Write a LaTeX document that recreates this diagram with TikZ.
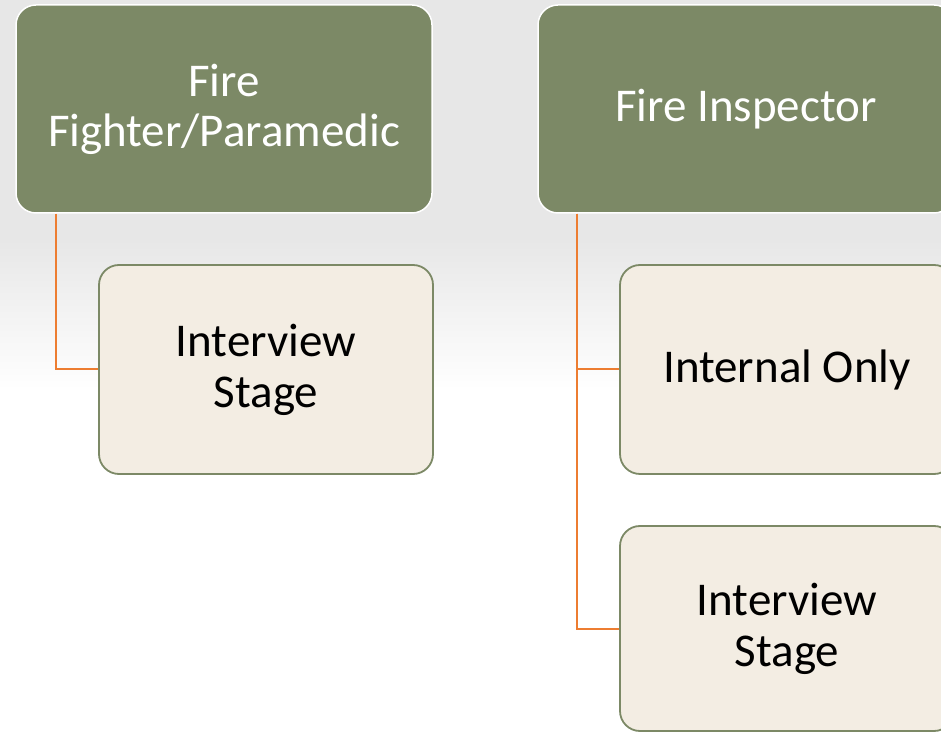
\documentclass[tikz,border=0pt]{standalone}
\usepackage{fontspec}
\setmainfont{Carlito}
\definecolor{olive}{HTML}{7C8966}
\definecolor{cream}{HTML}{F3EDE3}
\definecolor{connorange}{HTML}{ED7D31}
\definecolor{bggray}{HTML}{E7E7E7}
\begin{document}
\begin{tikzpicture}[x=1pt,y=1pt,
  topbox/.style={draw=white, line width=1.5pt, fill=olive, rounded corners=20pt,
    minimum width=416pt, minimum height=208pt, text=white, align=center,
    font=\fontsize{47}{50}\selectfont, inner sep=0pt},
  childbox/.style={draw=olive, line width=1.8pt, fill=cream, rounded corners=20pt,
    minimum width=334pt, text=black, align=center,
    font=\fontsize{47}{51}\selectfont, inner sep=0pt},
  conn/.style={draw=connorange, line width=2pt}]
\useasboundingbox (0,0) rectangle (941,733);
\clip (0,0) rectangle (941,733);
% background
\fill[white] (0,0) rectangle (941,733);
\fill[bggray] (0,493) rectangle (941,733);
\shade[top color=bggray, bottom color=white] (0,343) rectangle (941,493.5);
% top boxes
\node[topbox] (box1) at (224,624) {Fire\\Fighter/Paramedic};
\node[topbox] (box2) at (746,624) {Fire Inspector};
% connectors
\coordinate (s1) at ([xshift=41pt]box1.south west);
\coordinate (s2) at ([xshift=40pt]box2.south west);
% children
\node[childbox, minimum height=209pt] (c1) at (266,363.5) {Interview\\Stage};
\node[childbox, minimum height=209pt] (c2) at (787,363.5) {Internal Only};
\node[childbox, minimum height=205pt] (c3) at (787,104.5) {Interview\\Stage};
\begin{scope}[on background layer/.style={}]
\end{scope}
\draw[conn] (s1) |- (c1.west);
\draw[conn] (s2) |- (c2.west);
\draw[conn] (s2) |- (c3.west);
\end{tikzpicture}
\end{document}
